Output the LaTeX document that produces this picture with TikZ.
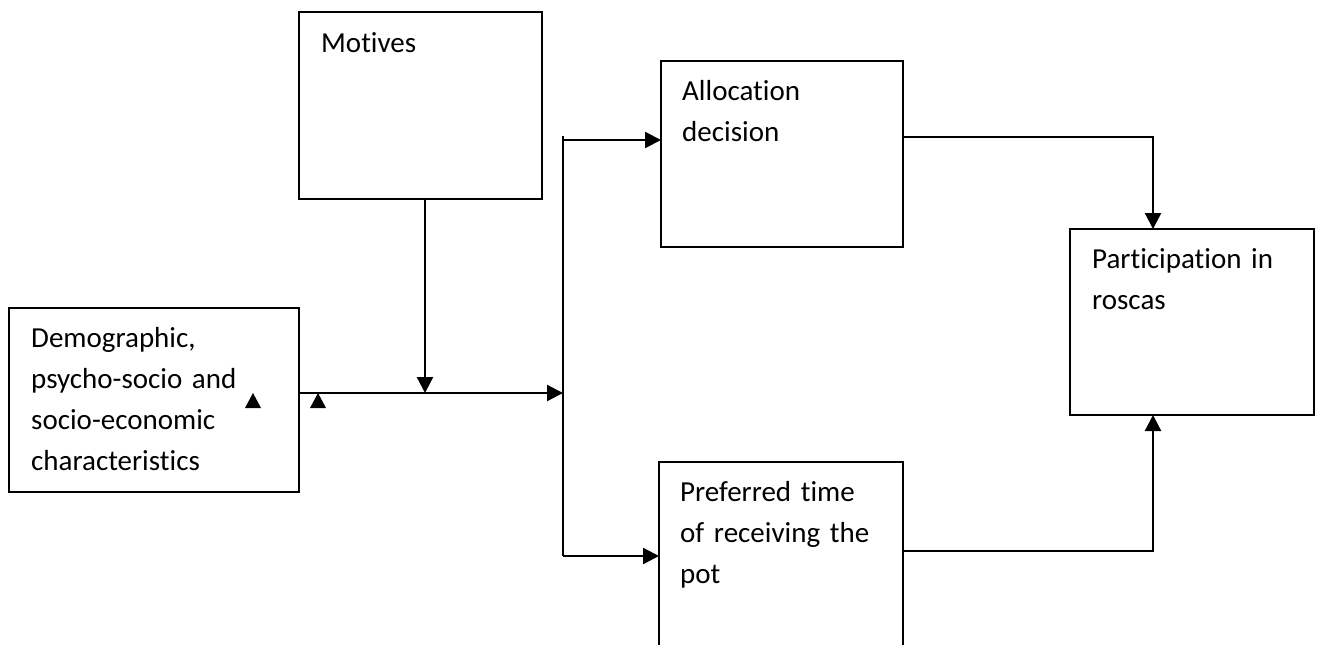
\documentclass[tikz,border=0pt]{standalone}
\usepackage{fontspec}
\setmainfont[Ligatures=CommonOff]{Carlito}
\usetikzlibrary{arrows.meta}
\begin{document}
\begin{tikzpicture}[x=1pt,y=-1pt,
  box/.style={draw=black,line width=1.8pt,rectangle,anchor=north west,inner sep=0pt,outer sep=0pt},
  lbl/.style={anchor=base west,inner sep=0pt,text width=240pt,align=left,font=\fontsize{29}{41}\selectfont},
  conn/.style={line width=2.3pt},
  arr/.style={line width=2.3pt,-{Triangle[length=16pt,width=16pt]}}]
\useasboundingbox (0,0) rectangle (1317,645);
\clip (0,0) rectangle (1317,645);
% boxes
\node[box,minimum width=290pt,minimum height=184pt] (dem) at (9,308) {};
\node[box,minimum width=243pt,minimum height=187pt] (mot) at (299,12) {};
\node[box,minimum width=242pt,minimum height=186pt] (alloc) at (661,61) {};
\node[box,minimum width=244pt,minimum height=186pt] (part) at (1070,229) {};
\node[box,minimum width=244pt,minimum height=260pt] (pref) at (659,462) {};
% texts
\node[lbl] (demT) at (31,347) {Demographic,\\psycho-socio and\\socio-economic\\characteristics};
\node[lbl] (motT) at (321,52) {Motives};
\node[lbl] (allocT) at (682,100) {Allocation\\decision};
\node[lbl] (partT) at (1092,268) {Participation in\\roscas};
\node[lbl] (prefT) at (680,501) {Preferred time\\of receiving the\\pot};
% junctions
\coordinate (j1) at (425,393);
\coordinate (j2) at (563,393);
\coordinate (vtop) at (563,140);
\coordinate (vtip) at (563,136);
\coordinate (vbot) at (563,556);
\coordinate (c1) at (1153,137);
\coordinate (c2) at (1153,551);
% connectors
\draw[arr] (mot.south -| j1) -- (j1);
\draw[arr] (dem.east |- j1) -- (j2);
\draw[conn] (vtip) -- (vbot);
\draw[arr] (vtop) -- (alloc.west |- vtop);
\draw[arr] (vbot) -- (pref.west |- vbot);
\draw[arr] (alloc.east |- c1) -- (c1) -- (part.north -| c1);
\draw[arr] (pref.east |- c2) -- (c2) -- (part.south -| c2);
% small detached arrowheads
\fill (245,408) -- (261,408) -- (253,393) -- cycle;
\fill (310,408) -- (326,408) -- (318,393) -- cycle;
\end{tikzpicture}
\end{document}
